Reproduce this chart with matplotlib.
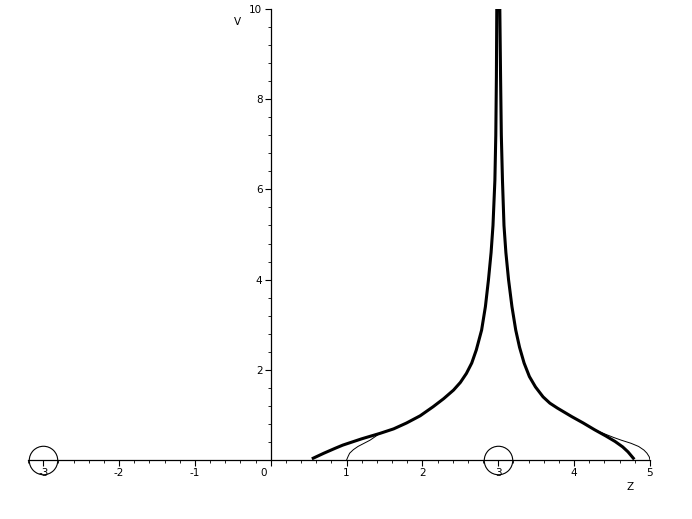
import matplotlib
matplotlib.use("Agg")
import matplotlib.pyplot as plt
import matplotlib.transforms as mtransforms
import numpy as np

# thick curve (z, v): left branch up, right branch down
thick_z = [0.56, 0.70, 0.85, 0.95, 1.20, 1.44, 1.62, 1.79, 1.97, 2.14, 2.28, 2.41,
           2.50, 2.58, 2.65, 2.71, 2.78, 2.83, 2.87, 2.905, 2.93, 2.955, 2.967,
           2.975, 2.98,
           3.02, 3.03, 3.04, 3.055, 3.075, 3.10, 3.135, 3.18, 3.23, 3.28, 3.34,
           3.41, 3.49, 3.59, 3.68, 3.78, 3.97, 4.12, 4.27, 4.42, 4.54, 4.64, 4.71,
           4.78]
thick_v = [0.04, 0.15, 0.26, 0.33, 0.47, 0.59, 0.69, 0.82, 0.98, 1.18, 1.36, 1.55,
           1.72, 1.92, 2.15, 2.44, 2.88, 3.40, 3.99, 4.60, 5.20, 6.20, 7.20,
           8.50, 10.0,
           10.0, 8.50, 7.20, 6.20, 5.20, 4.60, 4.00, 3.40, 2.88, 2.50, 2.15,
           1.85, 1.62, 1.40, 1.26, 1.15, 0.96, 0.82, 0.67, 0.53, 0.41, 0.29, 0.18,
           0.04]

# thin curve ends that leave the thick one
thin_left_z = [1.00, 1.02, 1.04, 1.09, 1.15, 1.23, 1.31]
thin_left_v = [0.00, 0.08, 0.15, 0.23, 0.30, 0.37, 0.44]
thin_right_z = [4.40, 4.52, 4.62, 4.75, 4.85, 4.92, 4.96, 4.99, 5.00]
thin_right_v = [0.58, 0.50, 0.44, 0.37, 0.30, 0.22, 0.15, 0.07, 0.00]

# marked points on the z axis
circle_z = [-3, 3]
circle_v = [0, 0]

# thin curve shares the middle of the thick one
i0 = thick_z.index(1.44)
i1 = thick_z.index(4.27)
thin_z = thin_left_z + thick_z[i0:i1 + 1] + thin_right_z
thin_v = thin_left_v + thick_v[i0:i1 + 1] + thin_right_v

fig = plt.figure(figsize=(6.92, 5.19), dpi=100)
ax = fig.add_axes([0.0405, 0.1137, 0.8988, 0.869])

ax.plot(thin_z, thin_v, color="black", lw=0.7)
ax.plot(thick_z, thick_v, color="black", lw=2.2, solid_joinstyle="round")
ax.plot(circle_z, circle_v, "o", ms=20.5, mfc="none", mec="black", mew=0.8,
        clip_on=False)

ax.set_xlim(-3.2, 5)
ax.set_ylim(0, 10)

# axes crossing at the origin
ax.spines["left"].set_position(("data", 0))
ax.spines["bottom"].set_position(("data", 0))
ax.spines["top"].set_visible(False)
ax.spines["right"].set_visible(False)
ax.spines["left"].set_linewidth(0.9)
ax.spines["bottom"].set_linewidth(0.9)

ax.set_xticks(np.arange(-3, 6, 1))
ax.set_xticks(np.arange(-3.2, 5.01, 0.2), minor=True)
ax.set_yticks(np.arange(2, 11, 2))
ax.set_yticks(np.arange(0.4, 10.01, 0.4), minor=True)
ax.set_xticklabels([str(t) for t in range(-3, 6)])
ax.set_yticklabels([str(t) for t in range(2, 11, 2)])

ax.tick_params(which="major", length=4, width=0.8, labelsize=7.5, pad=2)
ax.tick_params(which="minor", length=2.5, width=0.6)

# put the "0" label left of the vertical axis
for lab in ax.get_xticklabels():
    if lab.get_text() == "0":
        lab.set_ha("right")
        lab.set_transform(lab.get_transform() +
                          mtransforms.ScaledTranslation(-3 / 72, 0, fig.dpi_scale_trans))

ax.text(0.336, 0.972, "V", transform=ax.transAxes, fontsize=7.5,
        ha="center", va="center")
ax.text(0.968, -0.06, "Z", transform=ax.transAxes, fontsize=7.5,
        ha="center", va="center")

fig.savefig("out.png", dpi=100)
